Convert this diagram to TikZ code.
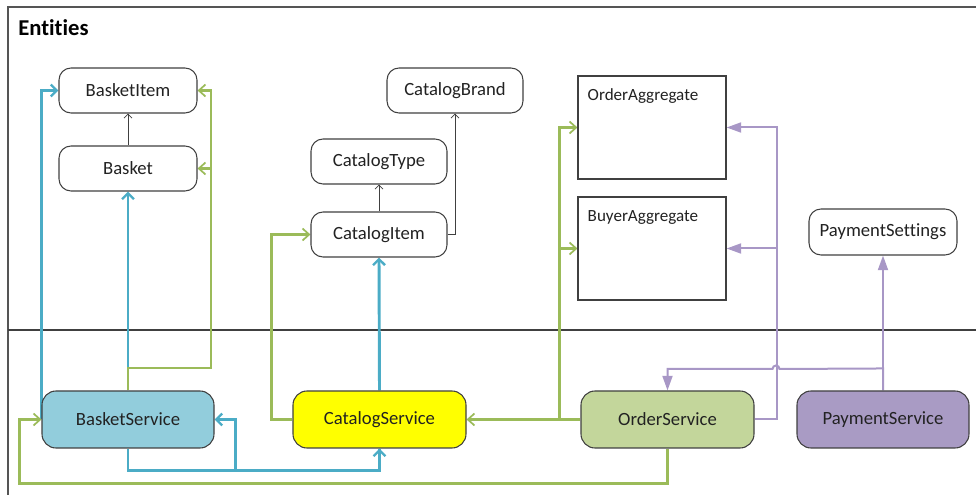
\documentclass[tikz,border=0pt]{standalone}
\usepackage{fontspec}
\setmainfont{Carlito}[Ligatures=NoCommon]
\usetikzlibrary{arrows.meta,backgrounds}

\definecolor{cText}{HTML}{222222}
\definecolor{cBorder}{HTML}{404040}
\definecolor{cFrame}{HTML}{555555}
\definecolor{cBlueLine}{HTML}{4BACC6}
\definecolor{cGreenLine}{HTML}{9BBB59}
\definecolor{cPurpleLine}{HTML}{A897C6}
\definecolor{cBasketFill}{HTML}{92CDDC}
\definecolor{cCatalogFill}{HTML}{FFFF00}
\definecolor{cOrderFill}{HTML}{C3D69B}
\definecolor{cPaymentFill}{HTML}{A99BC4}

\begin{document}
\begin{tikzpicture}[
  x=0.75pt, y=-0.75pt,
  entity/.style={draw=cBorder, line width=0.8pt, rounded corners=9pt, fill=white,
    minimum width=#1*0.75pt, minimum height=45*0.75pt, inner sep=0pt,
    text=cText, font=\fontsize{14}{16}\selectfont},
  aggregate/.style={draw=cBorder, line width=0.8pt, fill=white,
    minimum width=148*0.75pt, minimum height=103*0.75pt, inner sep=0pt},
  agglabel/.style={anchor=base west, inner sep=0pt, text=cText,
    font=\fontsize{12.8}{15}\selectfont},
  service/.style={draw=cBorder, line width=0.8pt, rounded corners=10.5pt, fill=#1,
    minimum width=172*0.75pt, minimum height=57*0.75pt, inner sep=0pt,
    text=cText, font=\fontsize{14}{16}\selectfont},
  blueflow/.style={draw=cBlueLine, line width=2.2pt,
    -{Straight Barb[length=4.5pt,width=9pt,line width=1.8pt]}},
  greenflow/.style={draw=cGreenLine, line width=1.55pt,
    -{Straight Barb[length=5pt,width=9pt,line width=1.3pt]}},
  purpleflow/.style={draw=cPurpleLine, line width=1.5pt,
    -{Triangle[length=11pt,width=7.5pt]}},
  grayflow/.style={draw=cBorder, line width=0.6pt,
    -{Straight Barb[length=3pt,width=6pt,line width=0.6pt]}},
]
\useasboundingbox (0,0) rectangle (976,495);

% entities
\node[entity=138] (bi) at (128,90.5)  {BasketItem};
\node[entity=138] (bk) at (128,168.5) {Basket};
\node[entity=136] (cb) at (455,90.5)  {CatalogBrand};
\node[entity=136] (ct) at (379,161.5) {CatalogType};
\node[entity=136] (ci) at (379,234.5) {CatalogItem};
\node[entity=148, minimum height=46*0.75pt] (ps) at (883,232) {PaymentSettings};
\node[aggregate] (oa) at (652,127.5) {};
\node[aggregate] (ba) at (652,248.5) {};
\node[agglabel] at ([xshift=7.5pt,yshift=-18.75pt]oa.north west) {OrderAggregate};
\node[agglabel] at ([xshift=7.5pt,yshift=-18.75pt]ba.north west) {BuyerAggregate};

% services
\node[service=cBasketFill]  (bs)  at (128,419.5)   {BasketService};
\node[service=cCatalogFill, minimum width=173*0.75pt] (cs) at (379.5,419.5) {CatalogService};
\node[service=cOrderFill, minimum width=173*0.75pt]   (os) at (667.5,419.5) {OrderService};
\node[service=cPaymentFill] (pys) at (883,419.5)   {PaymentService};

\node[anchor=base west, inner sep=0pt, text=black,
  font=\fontsize{17}{20}\selectfont\bfseries] (title) at (18,36) {Entities};

\begin{scope}[on background layer]
  % frame and layer divider
  \draw[cFrame, line width=1pt] (8,495) -- (8,7) -- (976,7);
  \draw[cBorder, line width=1.3pt] (8,330) -- (976,330);

  % entity relations
  \draw[grayflow] (bk.north) -- (bi.south);
  \draw[grayflow] (ci.north) -- (ct.south);
  \draw[grayflow] (ci.east) -| (cb.south);

  % basket / catalog service links
  \draw[blueflow] (bs.west) |- (bi.west);
  \draw[blueflow] (bs.north) -- (bk.south);
  \draw[blueflow] (bs.south) -- ++(0,22) -| (cs.south);
  \draw[blueflow] (cs.south) -- ++(0,22) -| ([xshift=15.75pt]bs.east) -- (bs.east);
  \draw[blueflow] (cs.north) -- (ci.south);

  \draw[greenflow] (bs.north) -- ++(0,-22) -| ([xshift=9.75pt]bi.east) -- (bi.east);
  \draw[greenflow] ([xshift=9.75pt]bk.east) -- (bk.east);
  \draw[greenflow] (cs.west) -- ++(-21,0) |- (ci.west);
  \draw[greenflow] (os.west) -- (cs.east);
  \draw[greenflow] ([xshift=-15.75pt]os.west) |- (oa.west);
  \draw[greenflow] ([xshift=-15.75pt]os.west) |- (ba.west);
  \draw[greenflow] (os.south) -- ++(0,35) -| ([xshift=-16.5pt]bs.west) -- (bs.west);

  % order / payment service links
  \draw[purpleflow] (os.east) -- ++(22,0) |- (oa.east);
  \draw[purpleflow] ([xshift=16.5pt]os.east) |- (ba.east);
  \draw[purpleflow] (pys.north) -- (ps.south);
  \draw[purpleflow] (pys.north) -- ++(0,-22) -- (779.5,369)
    arc[start angle=0, end angle=-180, radius=3.5] -| (os.north);
\end{scope}
\end{tikzpicture}
\end{document}
